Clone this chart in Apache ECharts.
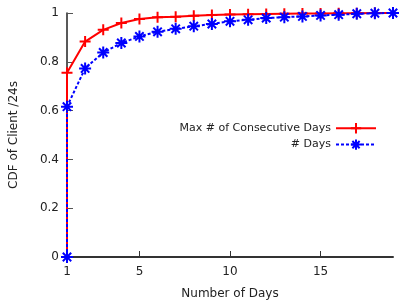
<!DOCTYPE html>
<html>
<head>
<meta charset="utf-8">
<script src="https://cdn.jsdelivr.net/npm/echarts@6/dist/echarts.min.js"></script>
<style>
  html, body { margin: 0; padding: 0; background: #fff; }
  #chart { width: 399px; height: 306px; }
</style>
</head>
<body>
<div id="chart"></div>
<script>
// x positions (number of days); the first point repeats day 1 at 0 for the vertical rise
const days = [1, 1, 2, 3, 4, 5, 6, 7, 8, 9, 10, 11, 12, 13, 14, 15, 16, 17, 18, 19];
const maxConsecutive = [0, 0.755, 0.883, 0.931, 0.959, 0.975, 0.983, 0.985, 0.989, 0.992, 0.994, 0.995, 0.996, 0.997, 0.998, 0.998, 0.999, 0.999, 1.0, 1.0];
const numDays = [0, 0.616, 0.773, 0.838, 0.877, 0.904, 0.923, 0.935, 0.946, 0.955, 0.966, 0.972, 0.979, 0.983, 0.986, 0.990, 0.993, 0.997, 0.999, 1.0];
const xTicks = [1, 5, 10, 15];

const PLUS = 'path://M0,5L10,5M5,0L5,10';
const STAR = 'path://M0,5L10,5M5,0L5,10M1.5,1.5L8.5,8.5M1.5,8.5L8.5,1.5';
const FONT = 'DejaVu Sans';

const pairs = (ys) => days.map((d, i) => [d, ys[i]]);

const chart = echarts.init(document.getElementById('chart'), null, { renderer: 'canvas' });
chart.setOption({
  animation: false,
  textStyle: { fontFamily: FONT },
  grid: { left: 67, right: 6, top: 13, bottom: 49 },
  legend: {
    orient: 'vertical',
    right: 17,
    top: 117,
    align: 'right',
    itemWidth: 40,
    itemHeight: 13,
    itemGap: 4,
    textStyle: { fontFamily: FONT, fontSize: 11, color: '#222' },
    data: ['Max # of Consecutive Days', '# Days'],
  },
  xAxis: {
    type: 'value',
    min: 1,
    max: 19,
    name: 'Number of Days',
    nameLocation: 'middle',
    nameGap: 31,
    nameTextStyle: { fontFamily: FONT, fontSize: 12, color: '#222' },
    axisLine: { lineStyle: { color: '#333', width: 2 } },
    axisTick: { inside: true, length: 6, customValues: xTicks, lineStyle: { color: '#333' } },
    axisLabel: { customValues: xTicks, margin: 9, fontSize: 12, color: '#222', fontFamily: FONT },
    splitLine: { show: false },
  },
  yAxis: {
    type: 'value',
    min: 0,
    max: 1,
    interval: 0.2,
    name: 'CDF of Client /24s',
    nameLocation: 'middle',
    nameGap: 47,
    nameTextStyle: { fontFamily: FONT, fontSize: 12, color: '#222' },
    axisLine: { show: true, lineStyle: { color: '#222', width: 1.5 } },
    axisTick: { show: true, inside: true, length: 6, lineStyle: { color: '#555' } },
    axisLabel: { margin: 8, fontSize: 12, color: '#222', fontFamily: FONT },
    splitLine: { show: false },
  },
  series: [
    {
      name: 'Max # of Consecutive Days',
      type: 'line',
      data: pairs(maxConsecutive),
      symbol: PLUS,
      symbolSize: 11,
      clip: false,
      lineStyle: { color: '#ff0000', width: 2 },
      itemStyle: { color: '#ff0000', borderColor: '#ff0000', borderWidth: 2 },
      emphasis: { disabled: true },
    },
    {
      name: '# Days',
      type: 'line',
      data: pairs(numDays),
      symbol: STAR,
      symbolSize: 12,
      clip: false,
      lineStyle: { color: '#0000ff', width: 2, type: [3, 2] },
      itemStyle: { color: '#0000ff', borderColor: '#0000ff', borderWidth: 2 },
      emphasis: { disabled: true },
    },
  ],
});
</script>
</body>
</html>
